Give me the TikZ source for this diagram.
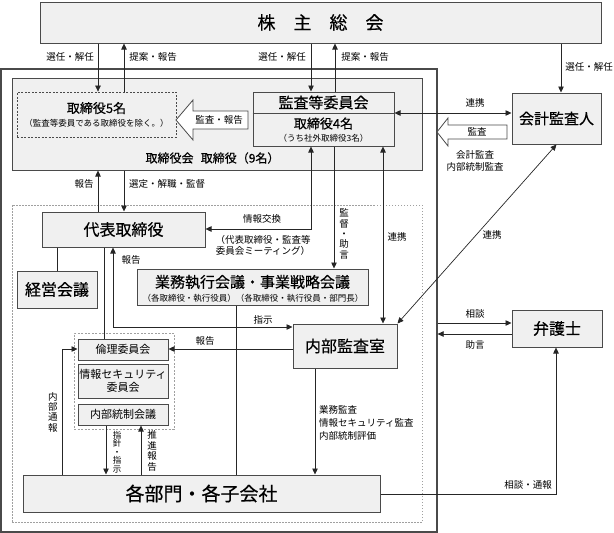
\documentclass[tikz,border=0pt]{standalone}
\usepackage{fontspec}
\setmainfont{Noto Sans CJK JP}[BoldFont={Noto Sans CJK JP}, BoldFeatures={FakeBold=0.4}]
\usetikzlibrary{arrows.meta}
\definecolor{boxc}{HTML}{4A4A4A}
\definecolor{fillc}{HTML}{F0F0F0}
\definecolor{linec}{HTML}{262626}
\definecolor{dashc}{HTML}{A0A0A0}
\begin{document}
\begin{tikzpicture}[x=1pt,y=-1pt,
  box/.style={draw=boxc, fill=fillc, line width=1pt, inner sep=0pt},
  blk/.style={draw=boxc, fill=white, line width=0.8pt},
  lbl/.style={inner sep=0pt, font=\fontsize{9.5}{11}\selectfont},
  vlbl/.style={inner sep=0pt, align=center, font=\fontsize{9.5}{10.4}\selectfont},
  ln/.style={draw=linec, line width=0.7pt},
  arr/.style={ln, -{Triangle[length=6pt,width=5.5pt]}},
  darr/.style={ln, {Triangle[length=6pt,width=5.5pt]}-{Triangle[length=6pt,width=5.5pt]}},
  f18/.style={font=\fontsize{18}{20}\selectfont\bfseries},
  f16/.style={font=\fontsize{16}{18}\selectfont\bfseries},
  f15/.style={font=\fontsize{15}{17}\selectfont\bfseries},
  f13/.style={font=\fontsize{13}{15}\selectfont\bfseries},
  f12/.style={font=\fontsize{12}{14}\selectfont\bfseries},
  f11/.style={font=\fontsize{11}{13}\selectfont},
  f8/.style={font=\fontsize{8.5}{10}\selectfont}]
\useasboundingbox (0,0) rectangle (614,533);

% ---- main boxes ----
\node[box, minimum width=561, minimum height=41, f18] (share) at (320.5,22.5) {株　主　総　会};
\node[draw=boxc, line width=1.2pt, minimum width=436, minimum height=463, inner sep=0pt] (outer) at (219,300.5) {};
\node[box, minimum width=410, minimum height=92] (board) at (217,124) {};
\node[inner sep=0pt, f12] (boardlbl) at (212.5,158) {取締役会\hspace{0.6em}取締役（9名）};

\node[draw=boxc, dash pattern=on 2pt off 1.5pt, line width=0.8pt, minimum width=159, minimum height=45, inner sep=0pt] (dir5) at (96.5,114.5) {};
\node[inner sep=0pt, f13] (dir5a) at (96.5,108) {取締役5名};
\node[inner sep=0pt, f8] (dir5b) at (96.5,123) {（監査等委員である取締役を除く。）};

\node[box, minimum width=141, minimum height=54] (audit) at (323.5,119) {};
\draw[boxc, line width=0.8pt] (audit.west |- 0,113) -- (audit.east |- 0,113);
\node[inner sep=0pt, f15] (audita) at (323.5,102.5) {監査等委員会};
\node[inner sep=0pt, f13] (auditb) at (323.5,123.5) {取締役4名};
\node[inner sep=0pt, f8] (auditc) at (323.5,138) {（うち社外取締役3名）};

\node[box, minimum width=89, minimum height=51, f15] (kaikei) at (556.5,118.5) {会計監査人};

\node[draw=dashc, dash pattern=on 1.5pt off 1.5pt, line width=0.7pt, minimum width=410, minimum height=317, inner sep=0pt] (comp) at (217,363.5) {};

\node[box, minimum width=163, minimum height=35, f16] (rep) at (123.5,229.5) {代表取締役};
\node[box, minimum width=80, minimum height=37, f16] (keiei) at (57,289.5) {経営会議};
\node[box, minimum width=231, minimum height=36] (gyomu) at (252.5,287) {};
\node[inner sep=0pt, f15] (gyomua) at (252.5,282) {業務執行会議・事業戦略会議};
\node[inner sep=0pt, f8] (gyomub) at (253,298) {（各取締役・執行役員）（各取締役・執行役員・部門長）};
\node[box, minimum width=104, minimum height=44, f16] (naibu) at (345,346) {内部監査室};
\node[box, minimum width=90, minimum height=37, f16] (bengo) at (557,328.5) {弁護士};

\node[draw=dashc, dash pattern=on 2pt off 1.5pt, line width=0.7pt, minimum width=100, minimum height=96, inner sep=0pt] (cmte) at (124,381) {};
\node[box, minimum width=90, minimum height=21, f11] (rinri) at (123,349.5) {倫理委員会};
\node[box, minimum width=90, minimum height=34, f11, align=center] (joho) at (123,381) {情報セキュリティ\\委員会};
\node[box, minimum width=90, minimum height=21, f11] (naitou) at (123,414.5) {内部統制会議};

\node[box, minimum width=357, minimum height=37, font=\fontsize{19}{21}\selectfont\bfseries] (depts) at (201.5,493.5) {各部門・各子会社};

% ---- block arrows ----
\draw[blk] (176,120) -- (193,100) -- (193,111) -- (248,111) -- (248,129) -- (193,129) -- (193,140) -- cycle;
\node[lbl] (kansahoukoku) at (219,120) {監査・報告};
\draw[blk] (437,132) -- (448,118) -- (448,125) -- (507,125) -- (507,139) -- (448,139) -- (448,146) -- cycle;
\node[lbl] (kansa) at (477,132) {監査};

% ---- connectors ----
\draw[arr] (share.south -| 98,0) -- (dir5.north -| 98,0);
\draw[arr] (dir5.north -| 124,0) -- (share.south -| 124,0);
\draw[arr] (share.south -| 311,0) -- (audit.north -| 311,0);
\draw[arr] (audit.north -| 335,0) -- (share.south -| 335,0);
\draw[arr] (share.south -| 561,0) -- (kaikei.north -| 561,0);
\node[lbl] (l1) at (70,57) {選任・解任};
\node[lbl] (l2) at (153,57) {提案・報告};
\node[lbl] (l3) at (282,57) {選任・解任};
\node[lbl] (l4) at (365,57) {提案・報告};
\node[lbl] (l5) at (589,67) {選任・解任};

\draw[darr] (audit.east |- 0,113) -- (kaikei.west |- 0,113);
\node[lbl] (l6) at (475,103) {連携};
\node[lbl, align=center, font=\fontsize{9.5}{12}\selectfont] (l7) at (475,161) {会計監査\\内部統制監査};

\draw[arr] (rep.north -| 98,0) -- (board.south -| 98,0);
\draw[arr] (board.south -| 124,0) -- (rep.north -| 124,0);
\node[lbl] (l8) at (84,184) {報告};
\node[lbl] (l9) at (167,184) {選定・解職・監督};

\draw[darr] (audit.south -| 311,0) -- (311,229) -- (rep.east |- 0,229);
\node[lbl] (l10) at (262,219) {情報交換};
\node[lbl, align=center, font=\fontsize{9.5}{11}\selectfont] (l11) at (263,245.5) {（代表取締役・監査等\\委員会ミーティング）};

\draw[arr] (audit.south -| 334,0) -- (gyomu.north -| 334,0);
\node[vlbl] (l12) at (344,234) {監\\督\\・\\助\\言};

\draw[darr] (audit.south -| 383,0) -- (naibu.north -| 383,0);
\node[lbl] (l13) at (397,237) {連携};
\draw[darr] (naibu.north east) -- (kaikei.south);
\node[lbl] (l14) at (492,235) {連携};

\draw[ln] (rep.south -| 57,0) -- (keiei.north -| 57,0);
\draw[ln] (rep.south -| 104,0) -- (rinri.north -| 104,0);
\draw[darr] (rep.south -| 113,0) -- (113,327) -- (naibu.west |- 0,327);
\node[lbl] (l15) at (131,260) {報告};
\node[lbl] (l16) at (263,320) {指示};
\draw[ln] (gyomu.south -| 236,0) -- (depts.north -| 236,0);

\draw[arr] (naibu.west |- 0,349) -- (rinri.east |- 0,349);
\node[lbl] (l17) at (205,341) {報告};
\draw[arr] (depts.north -| 62,0) -- (62,349) -- (rinri.west |- 0,349);
\node[vlbl] (l18) at (53,412) {内\\部\\通\\報};
\draw[arr] (naitou.south -| 106,0) -- (depts.north -| 106,0);
\node[vlbl, font=\fontsize{8.5}{8.4}\selectfont] (l19) at (117,452) {指\\針\\・\\指\\示};
\draw[arr] (depts.north -| 141,0) -- (naitou.south -| 141,0);
\node[vlbl] (l20) at (152,451) {推\\進\\報\\告};

\draw[arr] (naibu.south -| 315,0) -- (depts.north -| 315,0);
\node[lbl, anchor=west, align=left, font=\fontsize{9.5}{13}\selectfont] (l21) at (319,423) {業務監査\\情報セキュリティ監査\\内部統制評価};

\draw[arr] (depts.east |- 0,494) -- (556,494) -- (bengo.south -| 556,0);
\node[lbl] (l22) at (528,485) {相談・通報};
\draw[arr] (outer.east |- 0,323) -- (bengo.west |- 0,323);
\node[lbl] (l23) at (475,314) {相談};
\draw[arr] (bengo.west |- 0,334) -- (outer.east |- 0,334);
\node[lbl] (l24) at (475,345) {助言};
\end{tikzpicture}
\end{document}
